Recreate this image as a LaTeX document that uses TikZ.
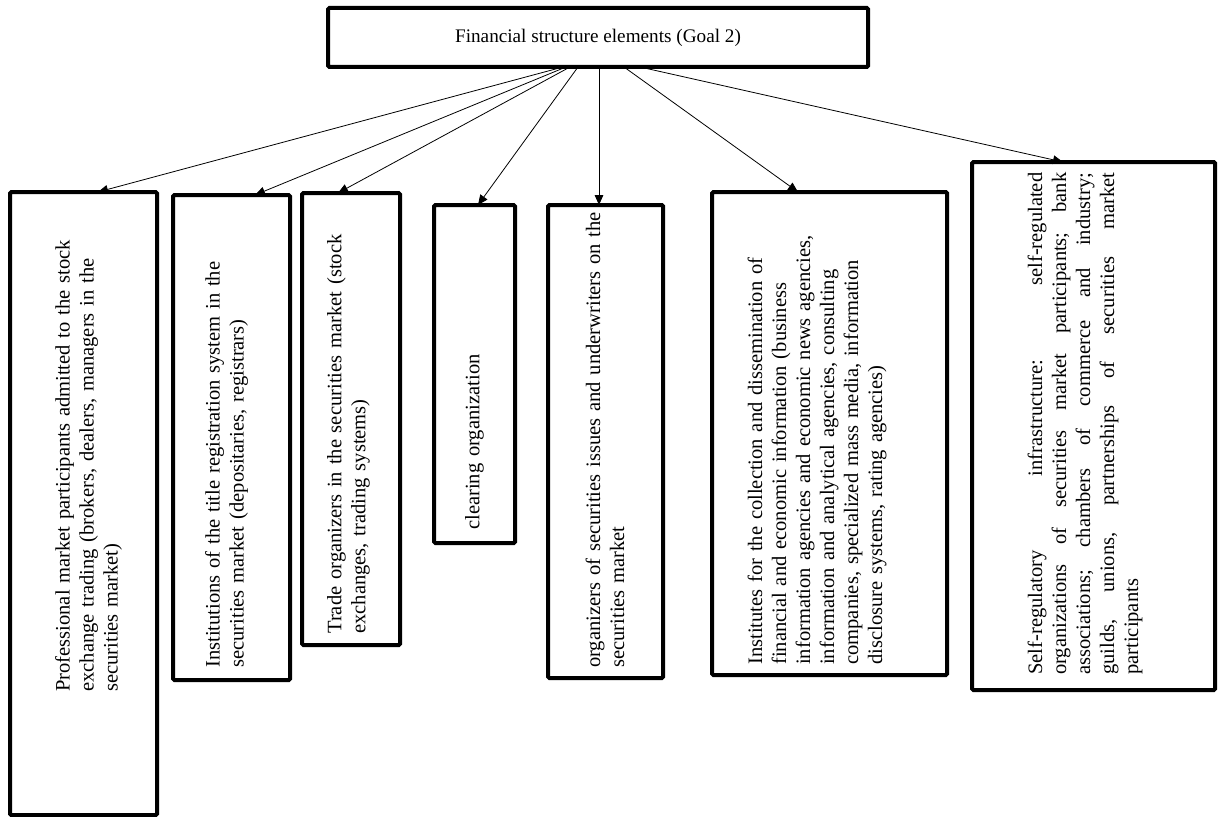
\documentclass[tikz,border=0pt]{standalone}
\usepackage{fontspec}
\setmainfont{Liberation Serif}
\usetikzlibrary{arrows.meta,calc}
\newcommand{\jline}[1]{\makebox[376.5pt]{#1}}
\begin{document}
\begin{tikzpicture}[x=0.75pt,y=-0.75pt,
  box/.style={draw, line width=3pt, rounded corners=1pt, outer sep=0pt, inner sep=0pt, anchor=north west},
  txt/.style={rotate=90, anchor=west, inner sep=0pt, align=left, text width=420pt, font=\fontsize{15.4}{18}\selectfont},
  toptxt/.style={font=\fontsize{14.4}{17}\selectfont},
  arr/.style={line width=0.6pt, -{Triangle[length=7.5pt,width=6.5pt]}}
]
\useasboundingbox (0,0) rectangle (1218,817);
% boxes
\node[box, minimum width=405pt, minimum height=44.25pt] (top) at (328,8) {};
\node[toptxt] (toplabel) at (598,38) {Financial structure elements (Goal 2)};
\node[box, minimum width=110.25pt, minimum height=467.25pt] (b1) at (10,192) {};
\node[box, minimum width=87.75pt, minimum height=363.75pt] (b2) at (173,195) {};
\node[box, minimum width=73.5pt, minimum height=339pt] (b3) at (302,193) {};
\node[box, minimum width=60.75pt, minimum height=253.5pt] (b4) at (434,205) {};
\node[box, minimum width=86.25pt, minimum height=354.75pt] (b5) at (548,205) {};
\node[box, minimum width=176.25pt, minimum height=362.25pt] (b6) at (712,192) {};
\node[box, minimum width=182.25pt, minimum height=396pt] (b7) at (972,162) {};
% texts
\node[txt] (t1) at (88.5,692) {Professional market participants admitted to the stock\\exchange trading (brokers, dealers, managers in the\\securities market)};
\node[txt] (t2) at (226.5,668) {Institutions of the title registration system in the\\securities market (depositaries, registrars)};
\node[txt] (t3) at (348.5,634) {Trade organizers in the securities market (stock\\exchanges, trading systems)};
\node[txt] (t4) at (474.5,530) {clearing organization};
\node[txt] (t5) at (605,668) {organizers of securities issues and underwriters on the\\securities market};
\node[txt] (t6) at (817,665) {Institutes for the collection and dissemination of\\financial and economic information (business\\information agencies and economic news agencies,\\information and analytical agencies, consulting\\companies, specialized mass media, information\\disclosure systems, rating agencies)};
\node[txt] (t7) at (1085,675) {\jline{Self-regulatory\hfill infrastructure:\hfill self-regulated}\\\jline{organizations\hfill of\hfill securities\hfill market\hfill participants;\hfill bank}\\\jline{associations;\hfill chambers\hfill of\hfill commerce\hfill and\hfill industry;}\\\jline{guilds,\hfill unions,\hfill partnerships\hfill of\hfill securities\hfill market}\\participants};
% connectors
\draw[arr] ($(top.south west)+(235,0)$) -- ($(b1.north west)+(88,0)$);
\draw[arr] ($(top.south west)+(238,0)$) -- ($(b2.north west)+(82,0)$);
\draw[arr] ($(top.south west)+(242,0)$) -- ($(b3.north west)+(36,0)$);
\draw[arr] ($(top.south west)+(250,0)$) -- ($(b4.north west)+(44,0)$);
\draw[arr] ($(top.south west)+(271,0)$) -- ($(b5.north west)+(51,0)$);
\draw[arr] ($(top.south west)+(296,0)$) -- ($(b6.north west)+(86,0)$);
\draw[arr] ($(top.south west)+(312,0)$) -- ($(b7.north west)+(91,0)$);
\end{tikzpicture}
\end{document}
